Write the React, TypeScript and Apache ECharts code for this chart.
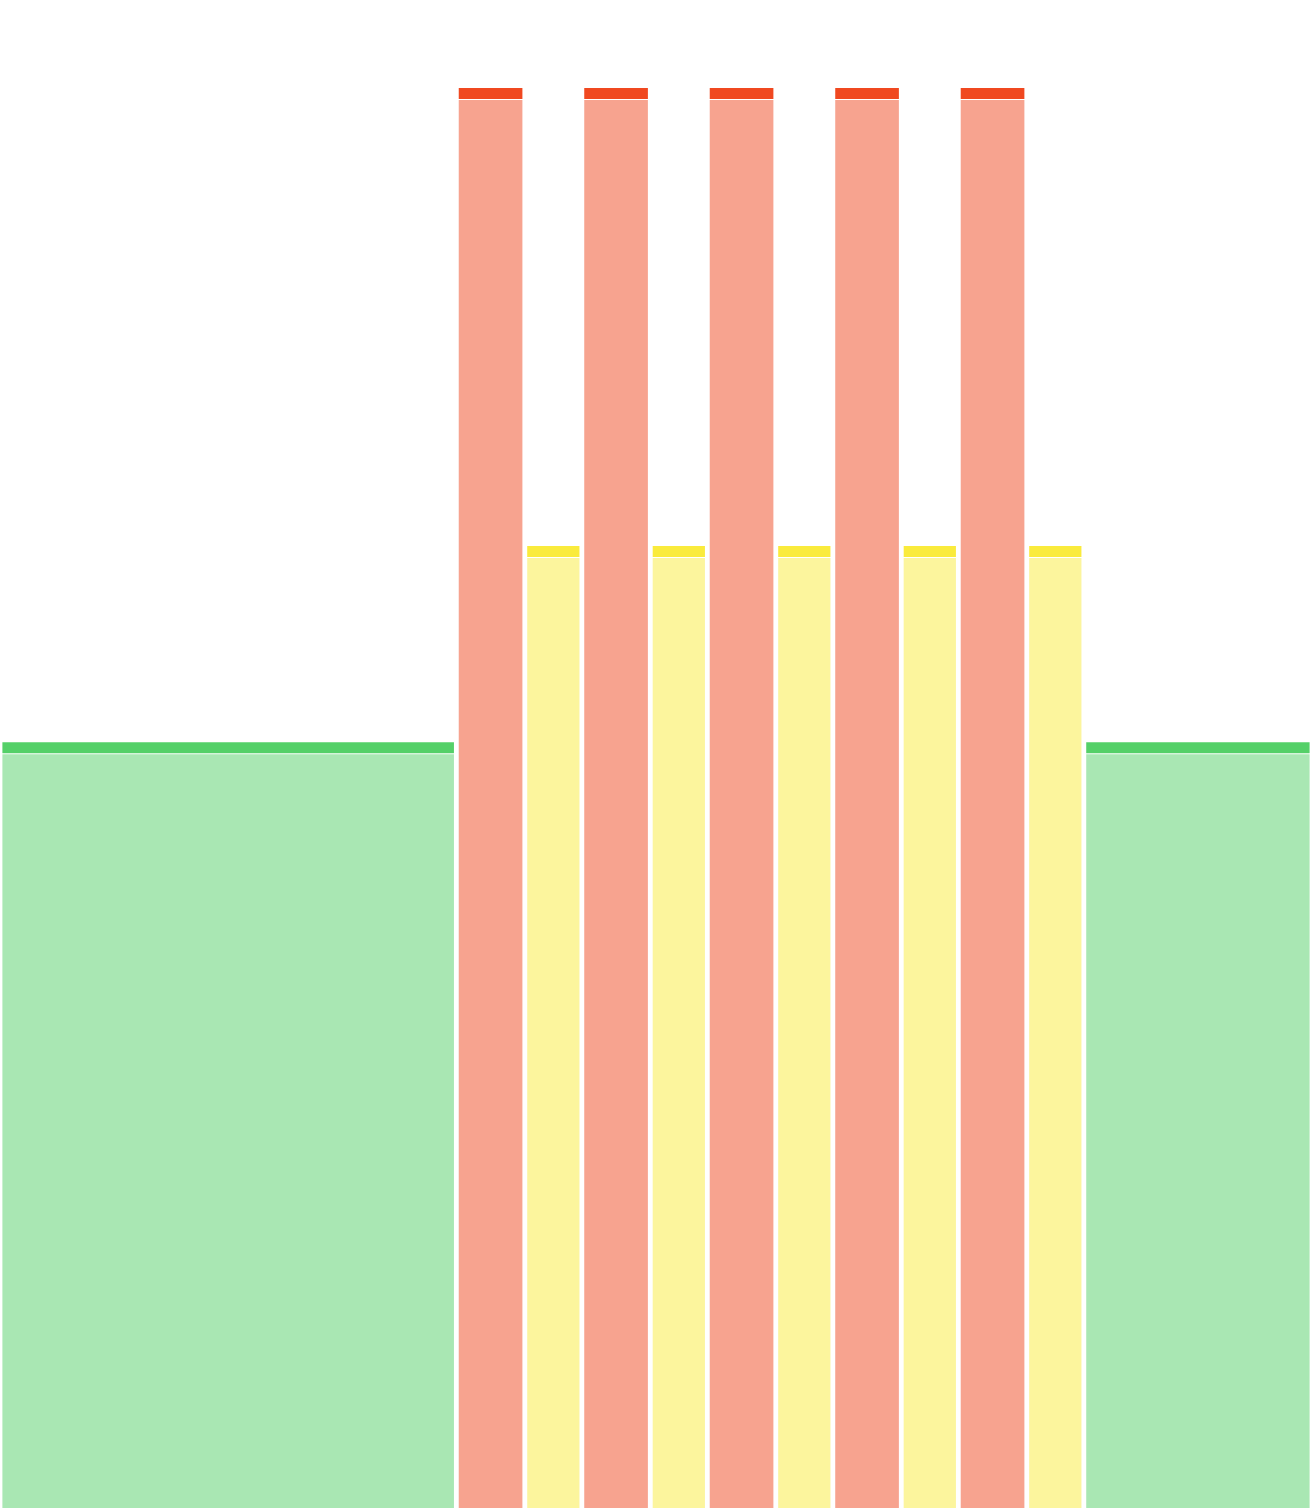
import React, { useEffect, useRef } from "react";
import * as echarts from "echarts";

// Workout profile: warm-up, 5 x (work + recovery), cool-down
const segmentNames = [
  "Warm-up",
  "Work 1", "Recovery 1",
  "Work 2", "Recovery 2",
  "Work 3", "Recovery 3",
  "Work 4", "Recovery 4",
  "Work 5", "Recovery 5",
  "Cool-down",
];
// durations in seconds
const segmentDurations = [600, 90, 75, 90, 75, 90, 75, 90, 75, 90, 75, 300];
// intensity (% of threshold)
const segmentIntensities = [60, 110, 75, 110, 75, 110, 75, 110, 75, 110, 75, 60];
// zone index per segment: 0 = easy (green), 1 = moderate (yellow), 2 = hard (red)
const segmentZones = [0, 2, 1, 2, 1, 2, 1, 2, 1, 2, 1, 0];
const zoneColors = ["#54D068", "#FAEB3C", "#F04820"];

export default function App() {
  const ref = useRef<HTMLDivElement>(null);

  useEffect(() => {
    if (!ref.current) return;
    const chart = echarts.init(ref.current, undefined, { renderer: "svg" });

    let t = 0;
    const data = segmentDurations.map((d, i) => {
      const item = {
        name: segmentNames[i],
        value: [t, t + d, segmentIntensities[i], segmentZones[i]],
      };
      t += d;
      return item;
    });
    const total = t;

    chart.setOption({
      animation: false,
      grid: { left: 0, right: 0, top: 22.6, bottom: 12.6 },
      xAxis: {
        type: "value",
        min: 0,
        max: total,
        show: false,
      },
      yAxis: {
        type: "value",
        min: 0,
        max: 115,
        show: false,
        splitLine: { show: false },
      },
      series: [
        {
          type: "custom",
          data,
          encode: { x: [0, 1], y: 2 },
          renderItem: (params: any, api: any) => {
            const start = api.value(0);
            const end = api.value(1);
            const val = api.value(2);
            const zone = api.value(3);
            const color = zoneColors[zone];
            const p0 = api.coord([start, val]);
            const p1 = api.coord([end, 0]);
            const inset = 2.4;
            const x = p0[0] + inset;
            const w = p1[0] - p0[0] - inset * 2;
            const top = p0[1];
            const bottom = p1[1];
            return {
              type: "group",
              children: [
                {
                  type: "rect",
                  shape: { x, y: top + 12, width: w, height: bottom - top - 12 },
                  style: { fill: color, opacity: 0.5 },
                },
                {
                  type: "rect",
                  shape: { x, y: top, width: w, height: 11 },
                  style: { fill: color },
                },
              ],
            };
          },
        },
      ],
    });

    return () => chart.dispose();
  }, []);

  return (
    <div
      style={{
        position: "fixed",
        left: 0,
        top: 0,
        width: 1312,
        height: 1508,
        overflow: "hidden",
        background: "#fff",
      }}
    >
      <div ref={ref} style={{ width: 1312, height: 1540 }} />
    </div>
  );
}
